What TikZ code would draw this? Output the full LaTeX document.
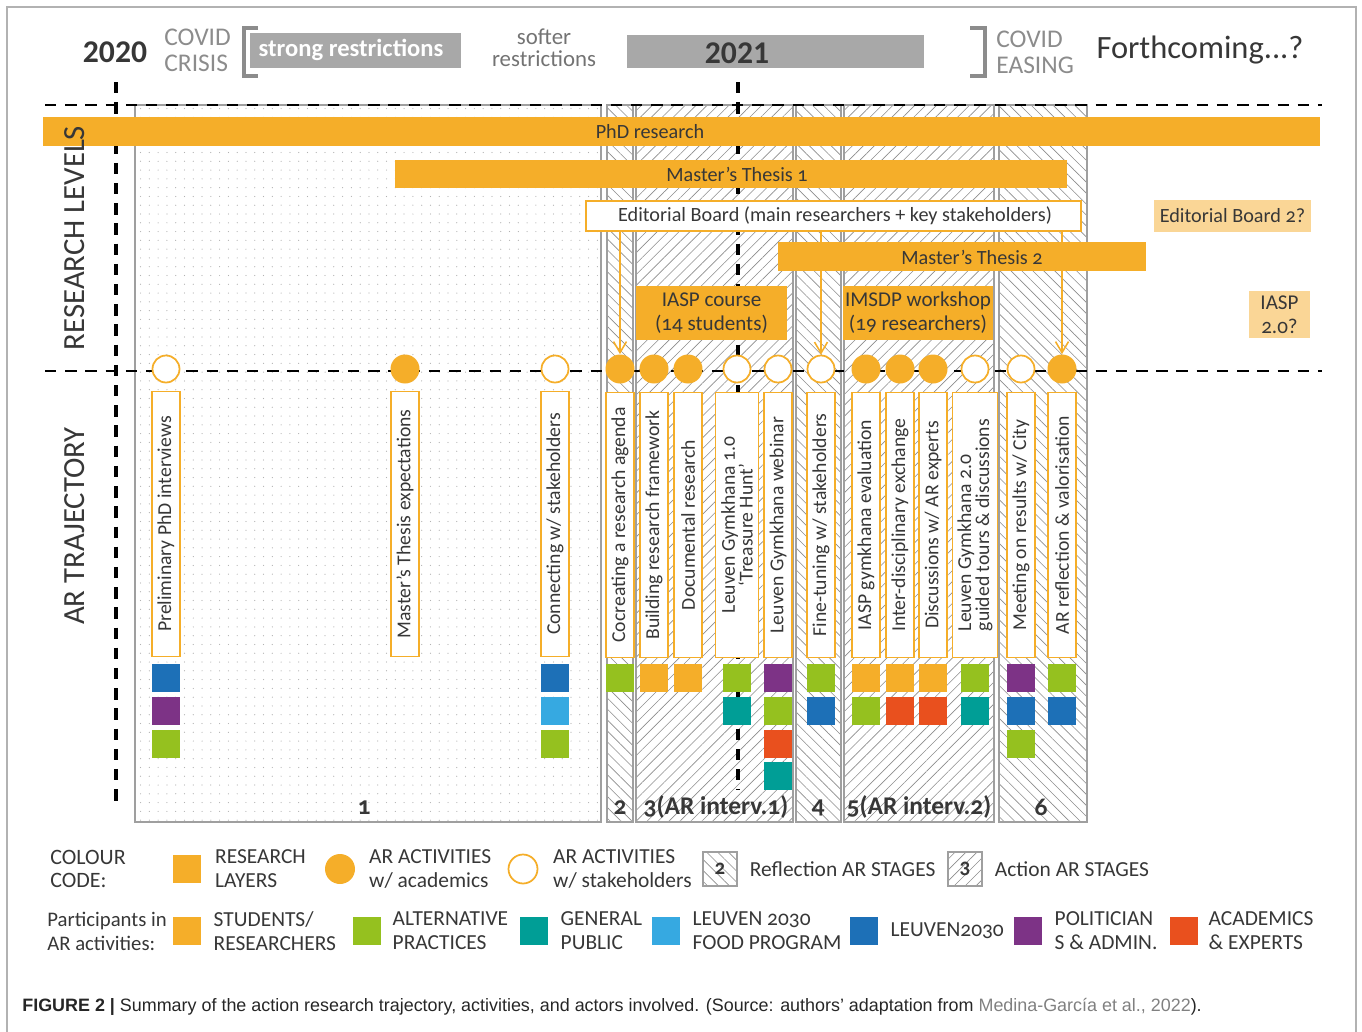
\documentclass[tikz,border=0pt]{standalone}
\usepackage{fontspec}
\setmainfont[Numbers=OldStyle]{Carlito}
\newfontfamily\yearfont{Carlito}
\newfontfamily\captionfont{Liberation Sans}
\usepackage{xcolor}
\usepackage{tikz}
\usetikzlibrary{positioning, fit, arrows.meta, patterns.meta}
\definecolor{arorange}{RGB}{245,174,41}
\definecolor{arlight}{RGB}{250,214,150}
\definecolor{argreen}{RGB}{149,193,31}
\definecolor{arteal}{RGB}{0,158,150}
\definecolor{arsky}{RGB}{54,169,225}
\definecolor{arblue}{RGB}{29,112,183}
\definecolor{arpurple}{RGB}{125,51,134}
\definecolor{arred}{RGB}{233,80,30}
\definecolor{txtgray}{RGB}{55,55,55}
\definecolor{covidgray}{RGB}{140,140,140}
\definecolor{boxgray}{RGB}{168,168,168}

\begin{document}
\begin{tikzpicture}[
    x=0.02cm, y=-0.02cm,
    bar/.style={rectangle, fill=arorange, inner sep=0pt},
    edbox/.style={rectangle, draw=arorange, fill=white, line width=0.9pt, inner sep=0pt},
    maybe/.style={rectangle, fill=arlight, inner sep=0pt},
    bartext/.style={text=txtgray, align=center, inner sep=0pt, font=\fontsize{11.5}{13.6}\selectfont},
    graybox/.style={rectangle, fill=boxgray, inner sep=0pt},
    covid/.style={text=covidgray, align=left, inner sep=0pt, font=\fontsize{14.5}{14.7}\selectfont},
    year/.style={text=txtgray, font=\yearfont\bfseries\fontsize{18}{20}\selectfont},
    activity/.style={rectangle, rotate=90, draw=arorange, fill=white, line width=0.85pt, minimum width=5.3cm, minimum height=0.56cm, inner sep=0pt, text=txtgray, font=\fontsize{11.2}{10.2}\selectfont},
    academ/.style={circle, fill=arorange, minimum size=0.58cm, inner sep=0pt},
    stake/.style={circle, draw=arorange, fill=white, line width=1pt, minimum size=0.54cm, inner sep=0pt},
    part/.style={rectangle, minimum size=0.56cm, inner sep=0pt},
    reflect/.style={draw=gray!75, line width=0.7pt, pattern={Lines[angle=-45, distance=4.4pt, line width=0.35pt]}, pattern color=gray!90},
    action/.style={draw=gray!75, line width=0.7pt, pattern={Lines[angle=45, distance=4.4pt, line width=0.35pt]}, pattern color=gray!90},
    dashline/.style={line width=1.5pt, dash pattern=on 6.5pt off 5pt},
    edarrow/.style={-{Straight Barb[length=2.2mm, width=2.6mm]}, draw=arorange, line width=0.9pt},
    stagelbl/.style={text=txtgray, inner sep=0pt, font=\bfseries\fontsize{14.5}{16}\selectfont},
    side/.style={rotate=90, text=txtgray, inner sep=0pt, font=\fontsize{17.5}{20}\selectfont},
    legtext/.style={text=txtgray, align=left, inner sep=0pt, font=\fontsize{12.2}{13.6}\selectfont}
]
\useasboundingbox (0,0) rectangle (1362,1031);

% Frame
\draw[gray!60, line width=0.8pt] (7,7) rectangle (1356,1045);

% Header - years and covid periods
\node[year] (y2020) at (115,52) {2020};
\node[covid, anchor=west] (crisis) at (164,50) {COVID\\CRISIS};
\draw[covidgray, line width=2.6pt] (258,28) -- (244,28) -- (244,76) -- (258,76);
\node[graybox, fit={(250,33) (461,68)}] (strong) {};
\node[text=white, font=\bfseries\fontsize{14}{16}\selectfont] (strongtext) at (351,50) {strong restrictions};
\node[covid, align=center, text=gray!90!black, font=\fontsize{13}{12.6}\selectfont] (softer) at (544,48) {softer\\restrictions};
\node[graybox, fit={(627,35) (924,68)}] (y2021box) {};
\node[year] (y2021) at (737,53) {2021};
\draw[covidgray, line width=2.6pt] (970,28) -- (985,28) -- (985,76) -- (970,76);
\node[covid, anchor=west] (easing) at (996,52) {COVID\\EASING};
\node[text=txtgray, font=\fontsize{18.5}{20}\selectfont] (forth) at (1200,50) {Forthcoming...?};

% AR stages
\path[draw=gray!75, line width=0.7pt, pattern={Dots[distance=5pt, radius=0.35pt]}, pattern color=gray!60] (135,105) rectangle (601,822);
\path[reflect] (607,105) rectangle (633,822);
\path[action] (636,105) rectangle (793,822);
\path[reflect] (796,105) rectangle (841,822);
\path[action] (844,105) rectangle (994,822);
\path[reflect] (999,105) rectangle (1087,822);

% Time lines
\coordinate (t2020) at (116,82);
\coordinate (b2020) at (116,808);
\coordinate (t2021) at (738,82);
\coordinate (b2021) at (738,790);
\coordinate (lvltopw) at (45,105);
\coordinate (lvltope) at (1322,105);
\coordinate (lvlmidw) at (45,371);
\coordinate (lvlmide) at (1322,371);
\draw[dashline] (lvltopw) -- (lvltope);
\draw[dashline] (lvlmidw) -- (lvlmide);
\draw[dashline, line width=1.8pt] (t2020) -- (b2020);
\draw[dashline, line width=1.8pt] (t2021) -- (b2021);

% Research levels
\node[bar, fit={(43,117) (1320,146)}] (phd) {};
\node[bartext] (phdtext) at (650,132) {PhD research};
\node[bar, fit={(395,160) (1067,188)}] (mt1) {};
\node[bartext] (mt1text) at (737,174) {Master’s Thesis 1};
\node[edbox, fit={(586,201) (1081,231)}] (edboard) {};
\node[bartext] (edboardtext) at (835,216) {Editorial Board (main researchers + key stakeholders)};
\node[bar, fit={(778,242) (1146,271)}] (mt2) {};
\node[bartext] (mt2text) at (972,257) {Master’s Thesis 2};
\node[bar, fit={(636,286) (787,340)}] (iasp) {};
\node[bartext, font=\fontsize{12}{13.6}\selectfont] (iasptext) at (iasp) {IASP course\\(14 students)};
\node[bar, fit={(843,286) (993,340)}] (imsdp) {};
\node[bartext, font=\fontsize{12}{13.6}\selectfont] (imsdptext) at (imsdp) {IMSDP workshop\\(19 researchers)};
\node[maybe, fit={(1154,200) (1311,232)}] (edboard2) {};
\node[bartext] (edboard2text) at (edboard2) {Editorial Board 2?};
\node[maybe, fit={(1249,291) (1310,338)}] (iasp2) {};
\node[bartext, font=\fontsize{12}{13.6}\selectfont] (iasp2text) at (iasp2) {IASP\\2.0?};

% AR activities
\node[stake] (prelimdot) at (166,369) {};
\node[academ] (mtexpdot) at (405,369) {};
\node[stake] (connectdot) at (555,369) {};
\node[academ] (cocreatedot) at (620,369) {};
\node[academ] (builddot) at (654,369) {};
\node[academ] (docudot) at (688,369) {};
\node[stake] (lgonedot) at (737,369) {};
\node[stake] (webinardot) at (778,369) {};
\node[stake] (finetunedot) at (821,369) {};
\node[academ] (evaldot) at (866,369) {};
\node[academ] (interdot) at (900,369) {};
\node[academ] (discussdot) at (933,369) {};
\node[stake] (lgtwodot) at (975,369) {};
\node[stake] (meetingdot) at (1021,369) {};
\node[academ] (reflectdot) at (1062,369) {};

% Editorial board feedback
\draw[edarrow] (edboard.south -| cocreatedot) -- (cocreatedot.north);
\draw[edarrow] (edboard.south -| finetunedot) -- (finetunedot.north);
\draw[edarrow] (edboard.south -| reflectdot) -- (reflectdot.north);

\node[activity] (prelim) at (166,524) {Preliminary PhD interviews};
\node[activity] (mtexp) at (405,524) {Master’s Thesis expectations};
\node[activity] (connect) at (555,524) {Connecting w/ stakeholders};
\node[activity] (cocreate) at (620,525) {Cocreating a research agenda};
\node[activity] (build) at (654,525) {Building research framework};
\node[activity] (docu) at (688,525) {Documental research};
\node[activity, minimum height=0.86cm, align=center] (lgone) at (737,525) {Leuven Gymkhana 1.0\\‘Treasure Hunt’};
\node[activity] (webinar) at (778,525) {Leuven Gymkhana webinar};
\node[activity] (finetune) at (821,525) {Fine-tuning w/ stakeholders};
\node[activity] (eval) at (866,525) {IASP gymkhana evaluation};
\node[activity] (inter) at (900,525) {Inter-disciplinary exchange};
\node[activity] (discuss) at (933,525) {Discussions w/ AR experts};
\node[activity, minimum height=0.9cm, align=left] (lgtwo) at (975,525) {Leuven Gymkhana 2.0\\guided tours \& discussions};
\node[activity] (meeting) at (1021,525) {Meeting on results w/ City};
\node[activity] (reflect) at (1062,525) {AR reflection \& valorisation};

% Participants
\node[part, fill=arblue] (prelimA) at (166,678) {};
\node[part, fill=arpurple] (prelimB) at (166,711) {};
\node[part, fill=argreen] (prelimC) at (166,744) {};
\node[part, fill=arblue] (connectA) at (555,678) {};
\node[part, fill=arsky] (connectB) at (555,711) {};
\node[part, fill=argreen] (connectC) at (555,744) {};
\node[part, fill=argreen] (cocreateA) at (620,678) {};
\node[part, fill=arorange] (buildA) at (654,678) {};
\node[part, fill=arorange] (docuA) at (688,678) {};
\node[part, fill=argreen] (lgoneA) at (737,678) {};
\node[part, fill=arteal] (lgoneB) at (737,711) {};
\node[part, fill=arpurple] (webinarA) at (778,678) {};
\node[part, fill=argreen] (webinarB) at (778,711) {};
\node[part, fill=arred] (webinarC) at (778,744) {};
\node[part, fill=arteal] (webinarD) at (778,776) {};
\node[part, fill=argreen] (finetuneA) at (821,678) {};
\node[part, fill=arblue] (finetuneB) at (821,711) {};
\node[part, fill=arorange] (evalA) at (866,678) {};
\node[part, fill=argreen] (evalB) at (866,711) {};
\node[part, fill=arorange] (interA) at (900,678) {};
\node[part, fill=arred] (interB) at (900,711) {};
\node[part, fill=arorange] (discussA) at (933,678) {};
\node[part, fill=arred] (discussB) at (933,711) {};
\node[part, fill=argreen] (lgtwoA) at (975,678) {};
\node[part, fill=arteal] (lgtwoB) at (975,711) {};
\node[part, fill=arpurple] (meetingA) at (1021,678) {};
\node[part, fill=arblue] (meetingB) at (1021,711) {};
\node[part, fill=argreen] (meetingC) at (1021,744) {};
\node[part, fill=argreen] (reflectA) at (1062,678) {};
\node[part, fill=arblue] (reflectB) at (1062,711) {};

% Stage numbers
\node[stagelbl] (stone) at (364,808) {1};
\node[stagelbl] (sttwo) at (620,808) {2};
\node[stagelbl] (stthree) at (716,807) {3(AR interv.1)};
\node[stagelbl] (stfour) at (818,808) {4};
\node[stagelbl] (stfive) at (919,807) {5(AR interv.2)};
\node[stagelbl] (stsix) at (1041,807) {6};

% Side labels
\node[side] (levels) at (75,238) {RESEARCH LEVELS};
\node[side] (trajectory) at (75,526) {AR TRAJECTORY};

% Legend - colour code
\node[legtext, anchor=west, font=\fontsize{12.5}{13.6}\selectfont] (colcode) at (50,869) {COLOUR\\CODE:};
\node[part, fill=arorange] (lgbar) at (187,869) {};
\node[legtext, right=0.27cm of lgbar] (lgbartxt) {RESEARCH\\LAYERS};
\node[academ, minimum size=0.6cm] (lgacad) at (340,869) {};
\node[legtext, right=0.27cm of lgacad] (lgacadtxt) {AR ACTIVITIES\\w/ academics};
\node[stake, minimum size=0.58cm] (lgstake) at (523,869) {};
\node[legtext, right=0.29cm of lgstake] (lgstaketxt) {AR ACTIVITIES\\w/ stakeholders};
\node[reflect, minimum size=0.68cm, text=txtgray, font=\bfseries\fontsize{12}{13}\selectfont] (lgrefl) at (720,869) {2};
\node[legtext, right=0.24cm of lgrefl] (lgrefltxt) {Reflection AR STAGES};
\node[action, minimum size=0.68cm, text=txtgray, font=\bfseries\fontsize{12}{13}\selectfont] (lgaction) at (965,869) {3};
\node[legtext, right=0.24cm of lgaction] (lgactiontxt) {Action AR STAGES};

% Legend - participants
\node[legtext, anchor=west, font=\fontsize{11.8}{13.6}\selectfont] (partin) at (47,931) {Participants in\\AR activities:};
\node[part, fill=arorange] (lgstud) at (187,931) {};
\node[legtext, right=0.24cm of lgstud] (lgstudtxt) {STUDENTS/\\RESEARCHERS};
\node[part, fill=argreen] (lgalt) at (367,931) {};
\node[legtext, right=0.22cm of lgalt] (lgalttxt) {ALTERNATIVE\\PRACTICES};
\node[part, fill=arteal] (lgpub) at (534,931) {};
\node[legtext, right=0.24cm of lgpub] (lgpubtxt) {GENERAL\\PUBLIC};
\node[part, fill=arsky] (lgfood) at (666,931) {};
\node[legtext, right=0.24cm of lgfood] (lgfoodtxt) {LEUVEN 2030\\FOOD PROGRAM};
\node[part, fill=arblue] (lgleuven) at (864,931) {};
\node[legtext, right=0.24cm of lgleuven] (lgleuventxt) {LEUVEN2030};
\node[part, fill=arpurple] (lgpol) at (1028,931) {};
\node[legtext, right=0.24cm of lgpol] (lgpoltxt) {POLITICIAN\\S \& ADMIN.};
\node[part, fill=arred] (lgacademics) at (1184,931) {};
\node[legtext, right=0.2cm of lgacademics] (lgacademicstxt) {ACADEMICS\\\& EXPERTS};

% Caption
\node[anchor=west, inner sep=0pt, text=black!85, font=\captionfont\fontsize{10.2}{12}\selectfont] (caption) at (22,1007) {\textbf{FIGURE 2 |} Summary of the action research trajectory, activities, and actors involved. (Source: authors’ adaptation from \textcolor{gray}{Medina-García et al., 2022}).};

\end{tikzpicture}
\end{document}
